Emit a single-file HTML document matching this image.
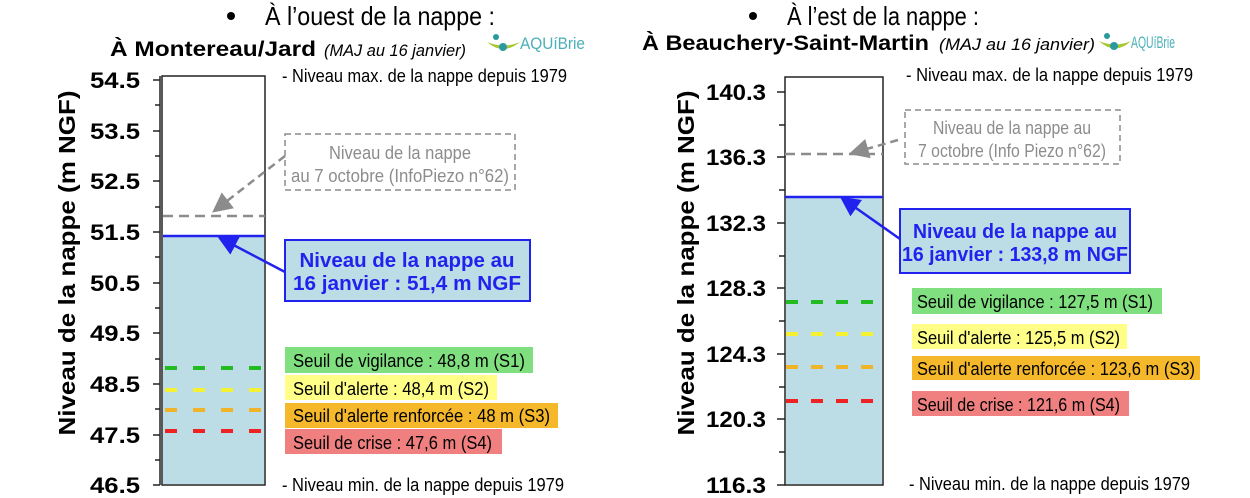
<!DOCTYPE html>
<html><head><meta charset="utf-8"><style>
html,body{margin:0;padding:0;background:#fff;}
svg{display:block;}
text{font-family:"Liberation Sans",sans-serif;}
</style></head><body>
<svg width="1250" height="498" viewBox="0 0 1250 498" xmlns="http://www.w3.org/2000/svg">
<defs>
<marker id="ab" markerWidth="8" markerHeight="8" refX="5" refY="4" orient="auto"><path d="M0,0 L8,4 L0,8 z" fill="#2222ee"/></marker>
<marker id="ag" markerWidth="8" markerHeight="8" refX="5" refY="4" orient="auto"><path d="M0,0 L8,4 L0,8 z" fill="#8c8c8c"/></marker>
</defs>

<!-- LEFT -->
<circle cx="231" cy="16" r="4" fill="#000"/>
<text x="265" y="25" font-size="26" textLength="230" lengthAdjust="spacingAndGlyphs">À l’ouest de la nappe :</text>
<text x="110" y="56" font-size="21" font-weight="bold" textLength="206" lengthAdjust="spacingAndGlyphs">À Montereau/Jard</text>
<text x="324" y="56" font-size="17" font-style="italic" textLength="142" lengthAdjust="spacingAndGlyphs">(MAJ au 16 janvier)</text>
<circle cx="496" cy="37" r="3" fill="#2a9aa0"/>
<path d="M487,42 Q503,56 520,42 Q504,49 487,42z" fill="#a8c832"/>
<circle cx="503" cy="47" r="4" fill="#2a9aa0"/>
<text x="520" y="49" font-size="17" fill="#4ab0b8" textLength="65" lengthAdjust="spacingAndGlyphs">AQUíBrie</text>

<rect x="162" y="76" width="103" height="409" fill="#fff" stroke="#222" stroke-width="1.5"/>
<rect x="163" y="237" width="101" height="247" fill="#bcdce6"/>
<line x1="160" y1="76" x2="160" y2="485" stroke="#222" stroke-width="1.5"/>
<g stroke="#222" stroke-width="1.5">
<line x1="153" y1="80" x2="160" y2="80"/><line x1="155" y1="105" x2="160" y2="105"/>
<line x1="153" y1="131" x2="160" y2="131"/><line x1="155" y1="156" x2="160" y2="156"/>
<line x1="153" y1="181" x2="160" y2="181"/><line x1="155" y1="207" x2="160" y2="207"/>
<line x1="153" y1="232" x2="160" y2="232"/><line x1="155" y1="257" x2="160" y2="257"/>
<line x1="153" y1="283" x2="160" y2="283"/><line x1="155" y1="308" x2="160" y2="308"/>
<line x1="153" y1="333" x2="160" y2="333"/><line x1="155" y1="359" x2="160" y2="359"/>
<line x1="153" y1="384" x2="160" y2="384"/><line x1="155" y1="409" x2="160" y2="409"/>
<line x1="153" y1="435" x2="160" y2="435"/><line x1="155" y1="460" x2="160" y2="460"/>
<line x1="153" y1="485" x2="160" y2="485"/>
</g>
<g font-size="22" font-weight="bold" text-anchor="end">
<text x="140" y="88" textLength="50" lengthAdjust="spacingAndGlyphs">54.5</text><text x="140" y="139" textLength="50" lengthAdjust="spacingAndGlyphs">53.5</text><text x="140" y="189" textLength="50" lengthAdjust="spacingAndGlyphs">52.5</text>
<text x="140" y="240" textLength="50" lengthAdjust="spacingAndGlyphs">51.5</text><text x="140" y="291" textLength="50" lengthAdjust="spacingAndGlyphs">50.5</text><text x="140" y="341" textLength="50" lengthAdjust="spacingAndGlyphs">49.5</text>
<text x="140" y="392" textLength="50" lengthAdjust="spacingAndGlyphs">48.5</text><text x="140" y="443" textLength="50" lengthAdjust="spacingAndGlyphs">47.5</text><text x="140" y="493" textLength="50" lengthAdjust="spacingAndGlyphs">46.5</text>
</g>
<text transform="translate(75,263) rotate(-90)" font-size="23" font-weight="bold" text-anchor="middle" textLength="345" lengthAdjust="spacingAndGlyphs">Niveau de la nappe (m NGF)</text>

<line x1="163" y1="216" x2="265" y2="216" stroke="#8c8c8c" stroke-width="2.5" stroke-dasharray="10,6"/>
<line x1="163" y1="236" x2="265" y2="236" stroke="#2222ee" stroke-width="2.5"/>
<line x1="165" y1="368" x2="265" y2="368" stroke="#22bb22" stroke-width="4" stroke-dasharray="12,16"/>
<line x1="165" y1="390" x2="265" y2="390" stroke="#f4f032" stroke-width="4" stroke-dasharray="12,16"/>
<line x1="165" y1="410" x2="265" y2="410" stroke="#f0b428" stroke-width="4" stroke-dasharray="12,16"/>
<line x1="165" y1="431" x2="265" y2="431" stroke="#ee2222" stroke-width="4" stroke-dasharray="12,16"/>

<text x="282" y="82" font-size="18" textLength="285" lengthAdjust="spacingAndGlyphs">- Niveau max. de la nappe depuis 1979</text>
<text x="282" y="491" font-size="18" textLength="282" lengthAdjust="spacingAndGlyphs">- Niveau min. de la nappe depuis 1979</text>

<rect x="285" y="134" width="230" height="56" fill="none" stroke="#8c8c8c" stroke-width="1.5" stroke-dasharray="6,4"/>
<text x="400" y="159" font-size="18" fill="#8c8c8c" text-anchor="middle" textLength="142" lengthAdjust="spacingAndGlyphs">Niveau de la nappe</text>
<text x="400" y="182" font-size="18" fill="#8c8c8c" text-anchor="middle" textLength="218" lengthAdjust="spacingAndGlyphs">au 7 octobre (InfoPiezo n°62)</text>
<line x1="285" y1="156" x2="218" y2="208" stroke="#8c8c8c" stroke-width="2.5" stroke-dasharray="8,5" marker-end="url(#ag)"/>

<rect x="285" y="240" width="245" height="61" fill="#bcdce6" stroke="#2222ee" stroke-width="2"/>
<text x="407" y="267" font-size="20" font-weight="bold" fill="#2222ee" text-anchor="middle" textLength="215" lengthAdjust="spacingAndGlyphs">Niveau de la nappe au</text>
<text x="407" y="290" font-size="20" font-weight="bold" fill="#2222ee" text-anchor="middle" textLength="228" lengthAdjust="spacingAndGlyphs">16 janvier : 51,4 m NGF</text>
<line x1="285" y1="272" x2="224" y2="240" stroke="#2222ee" stroke-width="2.5" marker-end="url(#ab)"/>

<rect x="285" y="347" width="248" height="26" fill="#80e080"/>
<text x="293" y="367" font-size="18" textLength="232" lengthAdjust="spacingAndGlyphs">Seuil de vigilance : 48,8 m (S1)</text>
<rect x="285" y="375" width="212" height="25" fill="#ffff88"/>
<text x="293" y="395" font-size="18" textLength="196" lengthAdjust="spacingAndGlyphs">Seuil d'alerte : 48,4 m (S2)</text>
<rect x="285" y="403" width="273" height="25" fill="#f5b82a"/>
<text x="293" y="422" font-size="18" textLength="257" lengthAdjust="spacingAndGlyphs">Seuil d'alerte renforcée : 48 m (S3)</text>
<rect x="285" y="429" width="217" height="25" fill="#f08080"/>
<text x="293" y="449" font-size="18" textLength="199" lengthAdjust="spacingAndGlyphs">Seuil de crise : 47,6 m (S4)</text>

<!-- RIGHT -->
<circle cx="753" cy="16" r="4" fill="#000"/>
<text x="787" y="25" font-size="26" textLength="192" lengthAdjust="spacingAndGlyphs">À l’est de la nappe :</text>
<text x="642" y="50" font-size="21" font-weight="bold" textLength="287" lengthAdjust="spacingAndGlyphs">À Beauchery-Saint-Martin</text>
<text x="939" y="50" font-size="17" font-style="italic" textLength="156" lengthAdjust="spacingAndGlyphs">(MAJ au 16 janvier)</text>
<circle cx="1107" cy="36" r="3" fill="#2a9aa0"/>
<path d="M1099,41 Q1115,56 1131,41 Q1115,48 1099,41z" fill="#a8c832"/>
<circle cx="1114" cy="46" r="4" fill="#2a9aa0"/>
<text x="1131" y="48" font-size="17" fill="#4ab0b8" textLength="44" lengthAdjust="spacingAndGlyphs">AQUíBrie</text>

<rect x="785" y="77" width="98" height="408" fill="#fff" stroke="#222" stroke-width="1.5"/>
<rect x="786" y="197" width="96" height="287" fill="#bcdce6"/>
<g stroke="#222" stroke-width="1.5">
<line x1="777" y1="92" x2="785" y2="92"/><line x1="779" y1="125" x2="785" y2="125"/>
<line x1="777" y1="157" x2="785" y2="157"/><line x1="779" y1="190" x2="785" y2="190"/>
<line x1="777" y1="223" x2="785" y2="223"/><line x1="779" y1="256" x2="785" y2="256"/>
<line x1="777" y1="288" x2="785" y2="288"/><line x1="779" y1="321" x2="785" y2="321"/>
<line x1="777" y1="354" x2="785" y2="354"/><line x1="779" y1="387" x2="785" y2="387"/>
<line x1="777" y1="419" x2="785" y2="419"/><line x1="779" y1="452" x2="785" y2="452"/>
<line x1="777" y1="485" x2="785" y2="485"/>
</g>
<g font-size="22" font-weight="bold" text-anchor="end">
<text x="766" y="100" textLength="60" lengthAdjust="spacingAndGlyphs">140.3</text><text x="766" y="165" textLength="60" lengthAdjust="spacingAndGlyphs">136.3</text><text x="766" y="231" textLength="60" lengthAdjust="spacingAndGlyphs">132.3</text>
<text x="766" y="296" textLength="60" lengthAdjust="spacingAndGlyphs">128.3</text><text x="766" y="362" textLength="60" lengthAdjust="spacingAndGlyphs">124.3</text><text x="766" y="427" textLength="60" lengthAdjust="spacingAndGlyphs">120.3</text>
<text x="766" y="493" textLength="60" lengthAdjust="spacingAndGlyphs">116.3</text>
</g>
<text transform="translate(694,263) rotate(-90)" font-size="23" font-weight="bold" text-anchor="middle" textLength="345" lengthAdjust="spacingAndGlyphs">Niveau de la nappe (m NGF)</text>

<line x1="785" y1="154" x2="883" y2="154" stroke="#8c8c8c" stroke-width="2.5" stroke-dasharray="10,6"/>
<line x1="785" y1="197" x2="883" y2="197" stroke="#2222ee" stroke-width="2.5"/>
<line x1="786" y1="302" x2="883" y2="302" stroke="#22bb22" stroke-width="4" stroke-dasharray="12,13"/>
<line x1="786" y1="334" x2="883" y2="334" stroke="#f4f032" stroke-width="4" stroke-dasharray="12,13"/>
<line x1="786" y1="367" x2="883" y2="367" stroke="#f0b428" stroke-width="4" stroke-dasharray="12,13"/>
<line x1="786" y1="401" x2="883" y2="401" stroke="#ee2222" stroke-width="4" stroke-dasharray="12,13"/>

<text x="906" y="81" font-size="18" textLength="287" lengthAdjust="spacingAndGlyphs">- Niveau max. de la nappe depuis 1979</text>
<text x="909" y="490" font-size="18" textLength="281" lengthAdjust="spacingAndGlyphs">- Niveau min. de la nappe depuis 1979</text>

<rect x="905" y="110" width="215" height="54" fill="none" stroke="#8c8c8c" stroke-width="1.5" stroke-dasharray="6,4"/>
<text x="1012" y="134" font-size="18" fill="#8c8c8c" text-anchor="middle" textLength="158" lengthAdjust="spacingAndGlyphs">Niveau de la nappe au</text>
<text x="1012" y="157" font-size="18" fill="#8c8c8c" text-anchor="middle" textLength="188" lengthAdjust="spacingAndGlyphs">7 octobre (Info Piezo n°62)</text>
<line x1="898" y1="140" x2="856" y2="152" stroke="#8c8c8c" stroke-width="2.5" stroke-dasharray="8,5" marker-end="url(#ag)"/>

<rect x="900" y="209" width="230" height="64" fill="#bcdce6" stroke="#2222ee" stroke-width="2"/>
<text x="1015" y="238" font-size="20" font-weight="bold" fill="#2222ee" text-anchor="middle" textLength="204" lengthAdjust="spacingAndGlyphs">Niveau de la nappe au</text>
<text x="1015" y="261" font-size="20" font-weight="bold" fill="#2222ee" text-anchor="middle" textLength="226" lengthAdjust="spacingAndGlyphs">16 janvier : 133,8 m NGF</text>
<line x1="900" y1="239" x2="846" y2="201" stroke="#2222ee" stroke-width="2.5" marker-end="url(#ab)"/>

<rect x="912" y="288" width="250" height="26" fill="#80e080"/>
<text x="917" y="308" font-size="18" textLength="236" lengthAdjust="spacingAndGlyphs">Seuil de vigilance : 127,5 m (S1)</text>
<rect x="912" y="324" width="215" height="25" fill="#ffff88"/>
<text x="917" y="344" font-size="18" textLength="203" lengthAdjust="spacingAndGlyphs">Seuil d'alerte : 125,5 m (S2)</text>
<rect x="912" y="356" width="288" height="24" fill="#f5b82a"/>
<text x="917" y="375" font-size="18" textLength="278" lengthAdjust="spacingAndGlyphs">Seuil d'alerte renforcée : 123,6 m (S3)</text>
<rect x="912" y="391" width="217" height="25" fill="#f08080"/>
<text x="917" y="411" font-size="18" textLength="203" lengthAdjust="spacingAndGlyphs">Seuil de crise : 121,6 m (S4)</text>
</svg>
</body></html>
